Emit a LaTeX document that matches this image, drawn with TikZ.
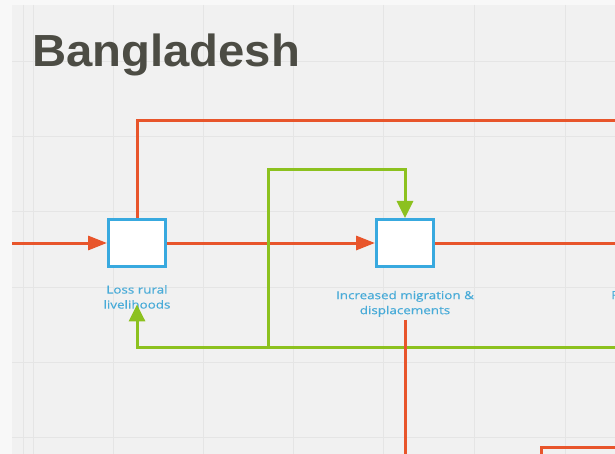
\documentclass[tikz,border=0pt]{standalone}
\usepackage{fontspec}
\usetikzlibrary{arrows.meta}
\newfontfamily\titlefont[FakeStretch=1.05]{Liberation Sans}
\newfontfamily\labelfont[FakeStretch=1.22,FakeBold=0.4]{Open Sans}
\definecolor{outerbg}{HTML}{F8F8F8}
\definecolor{canvasbg}{HTML}{F1F1F1}
\definecolor{gridln}{HTML}{E5E5E5}
\definecolor{linkred}{HTML}{E8552B}
\definecolor{linkgreen}{HTML}{8CC11F}
\definecolor{boxblue}{HTML}{38A9DF}
\definecolor{labelblue}{HTML}{48ABD8}
\definecolor{titlegray}{HTML}{4C4C44}
\tikzset{
  stockbox/.style={draw=boxblue, fill=white, line width=3pt,
    minimum width=57pt, minimum height=47pt, inner sep=0pt},
  stocklabel/.style={text=labelblue, align=center, inner sep=0pt,
    font={\labelfont\fontsize{11}{15}\selectfont}},
  redlink/.style={draw=linkred, line width=3pt},
  greenlink/.style={draw=linkgreen, line width=3pt},
  redtip/.style={-{Triangle[length=19pt,width=14pt]}},
  greentip/.style={-{Triangle[length=17pt,width=16pt]}},
}
\begin{document}
\begin{tikzpicture}[x=1pt, y=-1pt]
\useasboundingbox (0,0) rectangle (615,454);
\clip (0,0) rectangle (615,454);

% canvas and grid
\fill[outerbg] (0,0) rectangle (615,454);
\fill[canvasbg] (12,5) rectangle (615,454);
\foreach \gx in {23,33,113,203,293,383,474,565}
  \draw[gridln, line width=1pt] (\gx,5) -- (\gx,454);
\foreach \gy in {62,137,212,287,362,437}
  \draw[gridln, line width=1pt] (12,\gy) -- (615,\gy);

% title
\node[anchor=base west, inner sep=0pt, text=titlegray,
      font={\titlefont\bfseries\fontsize{45}{54}\selectfont}] (title) at (32,67) {Bangladesh};

% stocks
\node[stockbox] (lrl) at (137,243) {};
\node[stockbox] (img) at (405,243) {};
\node[stocklabel, anchor=north] (lrlt) at (137,285) {Loss rural\\livelihoods};
\node[stocklabel, anchor=north] (imgt) at (405,290.6) {Increased migration \&\\displacements};
\node[stocklabel, anchor=base west] (nextt) at (611,299) {R};

% free ends of the connectors
\coordinate (inL) at (12,243);
\coordinate (outR) at (625,243);
\coordinate (topR) at (625,121);
\coordinate (loopR) at (625,347);
\coordinate (loopJ) at (268,345.5);
\coordinate (loopT) at (268,170);
\coordinate (downB) at (0,470);
\coordinate (cornerA) at (541,470);
\coordinate (cornerB) at (625,447);

% red links
\draw[redlink, redtip] (inL) -- (lrl.west);
\draw[redlink, redtip] (lrl.east) -- (img.west);
\draw[redlink] (img.east) -- (outR);
\draw[redlink] (lrl.north) |- (topR);

% green feedback loops
\draw[greenlink, greentip] (loopR) -| ([yshift=4.5pt]lrlt.south);
\draw[greenlink, greentip] (loopJ) -- (loopT) -| (img.north);

% red links further down
\draw[redlink, shorten <=2.5pt] (imgt.south) -- (imgt.south |- downB);
\draw[redlink] (cornerA) |- (cornerB);
\end{tikzpicture}
\end{document}
